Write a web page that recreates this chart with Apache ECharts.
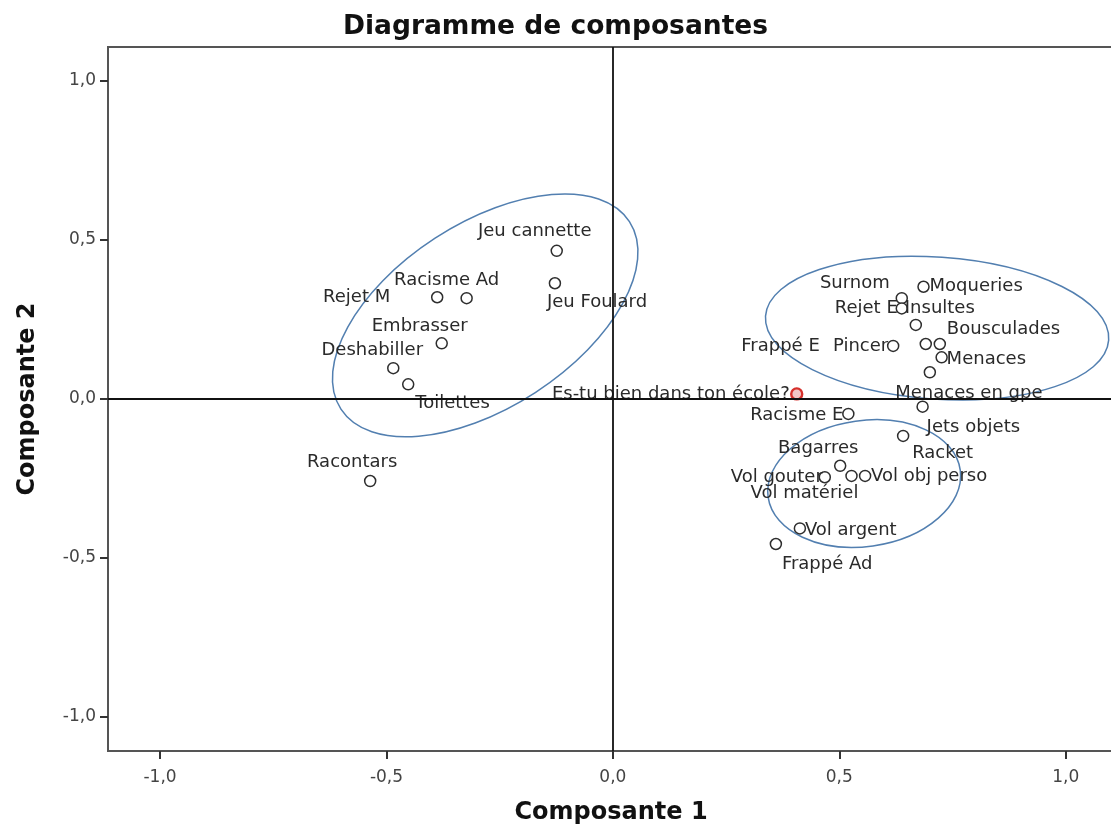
<!DOCTYPE html>
<html><head><meta charset="utf-8">
<script src="https://cdn.jsdelivr.net/npm/echarts@6/dist/echarts.min.js"></script>
<style>html,body{margin:0;padding:0;background:#fff}#c{width:1111px;height:828px}</style>
</head><body><div id="c"></div>
<script>
const names = ['Jeu cannette','Jeu Foulard','Rejet M','Racisme Ad','Embrasser','Deshabiller','Toilettes','Racontars',
  'Moqueries','Surnom','Rejet E','Insultes','Frappé E','Bousculades','Pincer','Menaces','Menaces en gpe',
  'Es-tu bien dans ton école?','Jets objets','Racisme E','Racket','Bagarres','Vol gouter','Vol matériel',
  'Vol obj perso','Vol argent','Frappé Ad'];
const comp1 = [-0.124,-0.128,-0.388,-0.323,-0.378,-0.485,-0.452,-0.536,
  0.686,0.638,0.638,0.669,0.691,0.722,0.619,0.726,0.700,
  0.406,0.684,0.520,0.641,0.502,0.468,0.527,0.557,0.413,0.360];
const comp2 = [0.465,0.363,0.319,0.316,0.174,0.096,0.045,-0.259,
  0.352,0.316,0.284,0.232,0.172,0.172,0.166,0.130,0.083,
  0.015,-0.025,-0.048,-0.117,-0.211,-0.247,-0.243,-0.243,-0.408,-0.457];
const highlighted = 'Es-tu bien dans ton école?';
const tickValues = [-1, -0.5, 0, 0.5, 1];
const xName = 'Composante 1';
const yName = 'Composante 2';
const titleText = 'Diagramme de composantes';

// label placement (text alignment, x offset, y offset) in pixels
const labelPlace = [
  ['center',-22,-19],['left',-8,19],['right',-47,0],['center',-20,-18],['center',-22,-17],['center',-21,-18],['left',7,19],['center',-18,-19],
  ['left',6,0],['right',-12,-15],['right',-4,0],['left',-11,-17],['right',-106,2],['left',7,-15],['right',-5,0],['left',5,2],['center',39,21],
  ['right',-7,0],['left',4,21],['right',-5,1],['left',9,17],['center',-22,-17],['right',-2,0],['center',-47,17],['left',6,0],['left',5,2],['left',6,20]
];
// annotation ellipses: centre in data units, radii in px, rotation in degrees
const ellCenter1 = [-0.282, 0.716, 0.555];
const ellCenter2 = [0.262, 0.222, -0.267];
const ellRx = [172, 172, 97];
const ellRy = [92, 71, 63];
const ellRot = [33, -4, 8];

const fmt = v => (v < 0 ? '-' : '') + Math.abs(v).toFixed(1).replace('.', ',');

const data = names.map((n, i) => {
  const p = labelPlace[i];
  const item = {
    name: n,
    value: [comp1[i], comp2[i]],
    label: { align: p[0], offset: [p[1], p[2]] }
  };
  if (n === highlighted) {
    item.itemStyle = { color: 'rgba(235,160,160,0.6)', borderColor: '#d6302c', borderWidth: 2.4 };
  }
  return item;
});

const chart = echarts.init(document.getElementById('c'));
const axisCommon = {
  type: 'value',
  nameLocation: 'middle',
  nameTextStyle: { fontFamily: 'DejaVu Sans', fontWeight: 'bold', fontSize: 24, color: '#111' },
  axisLine: { show: true, onZero: false, lineStyle: { color: '#555', width: 2 } },
  axisTick: { show: true, length: 8, customValues: tickValues, lineStyle: { color: '#333', width: 2 } },
  axisLabel: { customValues: tickValues, formatter: fmt, fontFamily: 'DejaVu Sans', fontSize: 17, color: '#444' },
  splitLine: { show: false }
};
chart.setOption({
  animation: false,
  backgroundColor: '#fff',
  title: { text: titleText, left: 'center', top: 9,
    textStyle: { fontFamily: 'DejaVu Sans', fontWeight: 'bold', fontSize: 26.5, color: '#111' } },
  grid: { left: 108, top: 47, bottom: 77, right: -3, show: true, borderColor: '#555', borderWidth: 2,
    backgroundColor: '#fff', containLabel: false, outerBoundsMode: 'none' },
  xAxis: Object.assign({}, axisCommon, { min: -1.115, max: 1.1067, name: xName, nameGap: 50,
    axisLabel: Object.assign({}, axisCommon.axisLabel, { margin: 18 }) }),
  yAxis: Object.assign({}, axisCommon, { min: -1.108, max: 1.106, name: yName, nameGap: 68,
    axisLabel: Object.assign({}, axisCommon.axisLabel, { margin: 12 }) }),
  series: [{
    type: 'scatter',
    symbol: 'circle',
    symbolSize: 11,
    itemStyle: { color: '#fff', borderColor: '#2e2e2e', borderWidth: 1.5, opacity: 1 },
    label: { show: true, position: 'inside', verticalAlign: 'middle', formatter: '{b}',
      fontFamily: 'DejaVu Sans', fontSize: 18, color: '#2a2a2a', textBorderWidth: 0 },
    emphasis: { disabled: true },
    markLine: {
      silent: true, symbol: 'none', label: { show: false },
      lineStyle: { color: '#111', width: 1.8, type: 'solid' },
      data: [{ xAxis: 0 }, { yAxis: 0 }]
    },
    data: data,
    z: 3
  }]
});

const graphics = ellCenter1.map((c1, i) => {
  const p = chart.convertToPixel({ gridIndex: 0 }, [c1, ellCenter2[i]]);
  return {
    type: 'ellipse', x: p[0], y: p[1], rotation: ellRot[i] * Math.PI / 180,
    shape: { cx: 0, cy: 0, rx: ellRx[i], ry: ellRy[i] },
    style: { fill: 'none', stroke: '#527fb0', lineWidth: 1.5 },
    silent: true, z: 1
  };
});
chart.setOption({ graphic: graphics });
</script>
</body></html>
